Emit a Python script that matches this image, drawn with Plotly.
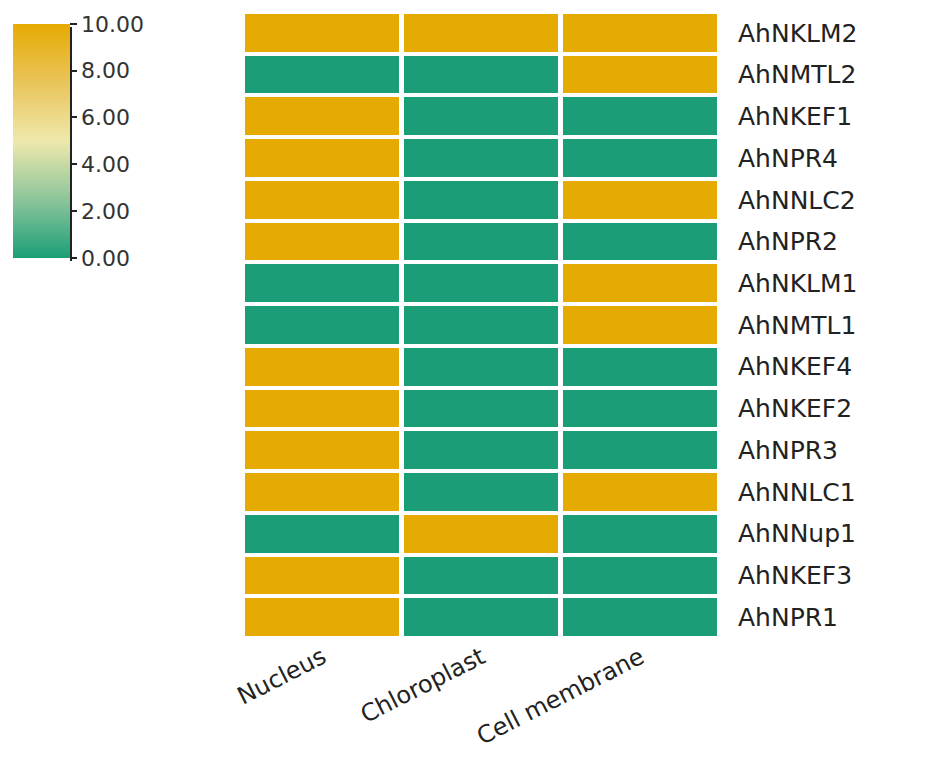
import plotly.graph_objects as go

genes = ["AhNKLM2", "AhNMTL2", "AhNKEF1", "AhNPR4", "AhNNLC2", "AhNPR2", "AhNKLM1",
         "AhNMTL1", "AhNKEF4", "AhNKEF2", "AhNPR3", "AhNNLC1", "AhNNup1", "AhNKEF3", "AhNPR1"]
locations = ["Nucleus", "Chloroplast", "Cell membrane"]
nucleus = [10, 0, 10, 10, 10, 10, 0, 0, 10, 10, 10, 10, 0, 10, 10]
chloroplast = [10, 0, 0, 0, 0, 0, 0, 0, 0, 0, 0, 0, 10, 0, 0]
cell_membrane = [10, 10, 0, 0, 10, 0, 10, 10, 0, 0, 0, 10, 0, 0, 0]
cbar_ticks = [0, 2, 4, 6, 8, 10]

z = [[n, c, m] for n, c, m in zip(nucleus, chloroplast, cell_membrane)]

colorscale = [[0.0, "#1b9e77"], [0.25, "#8cc59a"], [0.5, "#efe8ac"], [0.75, "#e9c45a"], [1.0, "#e6ab02"]]

W, H = 925, 751
ML, MR, MT, MB = 235, 213, 4, 121

fig = go.Figure(go.Heatmap(
    z=z, x=locations, y=genes,
    zmin=0, zmax=10,
    colorscale=colorscale,
    xgap=5, ygap=4,
    colorbar=dict(
        xref="container", yref="container",
        x=5 / W, xanchor="left",
        y=1 - 19 / H, yanchor="top",
        lenmode="pixels", len=234,
        thicknessmode="pixels", thickness=57,
        xpad=0, ypad=0,
        outlinewidth=0,
        tickvals=cbar_ticks,
        ticktext=[f"{v:.2f}" for v in cbar_ticks],
        ticks="outside", ticklen=7, tickwidth=1.5, tickcolor="#222",
        tickfont=dict(family="DejaVu Sans", size=22, color="#333"),
    ),
))

fig.update_layout(
    width=W, height=H,
    margin=dict(l=ML, r=MR, t=MT, b=MB, autoexpand=False),
    plot_bgcolor="white", paper_bgcolor="white",
    font=dict(family="DejaVu Sans", color="#222"),
    shapes=[dict(type="line", xref="paper", yref="paper",
                 x0=(63 - ML) / (W - ML - MR), x1=(63 - ML) / (W - ML - MR),
                 y0=(H - MB - 253) / (H - MT - MB), y1=(H - MB - 19) / (H - MT - MB),
                 line=dict(color="#222", width=2))],
)
fig.update_xaxes(showgrid=False, zeroline=False, ticks="", tickangle=-27, automargin=False,
                 tickfont=dict(family="DejaVu Sans", size=24, color="#222"))
fig.update_yaxes(showgrid=False, zeroline=False, ticks="", side="right", automargin=False,
                 autorange="reversed", ticklabelstandoff=17,
                 tickfont=dict(family="DejaVu Sans", size=25, color="#222"))

fig.write_html("out.html")
